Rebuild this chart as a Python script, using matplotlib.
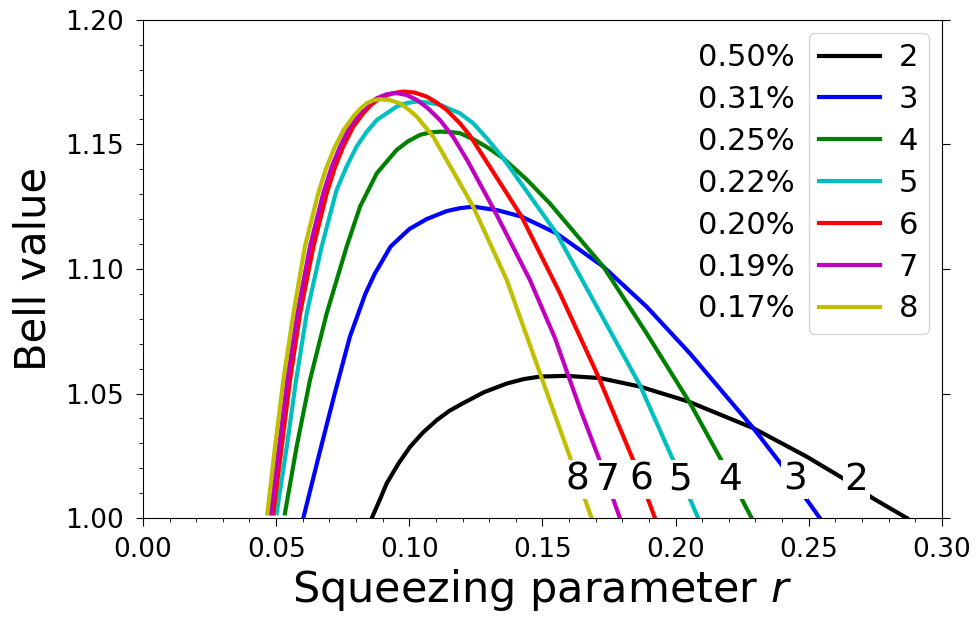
import matplotlib
matplotlib.use('Agg')
import matplotlib.pyplot as plt
from matplotlib.ticker import MultipleLocator, FormatStrFormatter

# curves: squeezing r vs Bell value, one per N
r2 = [0.0859, 0.089, 0.0915, 0.096, 0.1003, 0.105, 0.1103, 0.115, 0.12, 0.128, 0.1366, 0.143, 0.1491, 0.1591, 0.1716, 0.1866, 0.2048, 0.2292, 0.2492, 0.263, 0.2742, 0.2869]
b2 = [1.0, 1.0075, 1.0139, 1.022, 1.0286, 1.0342, 1.0393, 1.043, 1.046, 1.0505, 1.054, 1.0558, 1.0568, 1.0571, 1.0562, 1.0528, 1.0468, 1.0361, 1.0247, 1.0159, 1.0079, 1.0]

r3 = [0.0602, 0.0665, 0.072, 0.0777, 0.0835, 0.087, 0.093, 0.1, 0.1065, 0.114, 0.119, 0.124, 0.133, 0.1422, 0.1553, 0.1729, 0.1891, 0.2054, 0.2292, 0.2404, 0.2542]
b3 = [1.0, 1.027, 1.05, 1.0728, 1.09, 1.098, 1.109, 1.116, 1.12, 1.1232, 1.1244, 1.125, 1.1236, 1.121, 1.1143, 1.1009, 1.0849, 1.0661, 1.0361, 1.0206, 1.0]

r4 = [0.0533, 0.0577, 0.0627, 0.069, 0.0765, 0.0815, 0.0878, 0.0953, 0.0995, 0.104, 0.1078, 0.1115, 0.1153, 0.119, 0.124, 0.1295, 0.1353, 0.144, 0.1528, 0.1729, 0.1891, 0.2054, 0.2179, 0.2286]
b4 = [1.0019, 1.0287, 1.0554, 1.0822, 1.109, 1.125, 1.1384, 1.1478, 1.1512, 1.1538, 1.1548, 1.1551, 1.155, 1.1545, 1.1521, 1.1487, 1.1444, 1.136, 1.1263, 1.1009, 1.0742, 1.0462, 1.0219, 1.0]

r5 = [0.0502, 0.054, 0.0575, 0.0615, 0.0671, 0.0727, 0.0765, 0.0802, 0.084, 0.0878, 0.0953, 0.099, 0.1028, 0.107, 0.1115, 0.119, 0.124, 0.1295, 0.1353, 0.1553, 0.1704, 0.1866, 0.1991, 0.2085]
b5 = [1.0019, 1.0287, 1.0554, 1.0822, 1.109, 1.1317, 1.1412, 1.1491, 1.155, 1.1598, 1.1652, 1.1666, 1.1672, 1.1668, 1.1659, 1.1625, 1.1585, 1.152, 1.1444, 1.1143, 1.0849, 1.0534, 1.0233, 1.0]

r6 = [0.0489, 0.0521, 0.0552, 0.059, 0.064, 0.069, 0.072, 0.0752, 0.0788, 0.0827, 0.086, 0.089, 0.0935, 0.0978, 0.102, 0.1065, 0.11, 0.114, 0.119, 0.1228, 0.1422, 0.1566, 0.171, 0.1841, 0.1923]
b6 = [1.0019, 1.0287, 1.0554, 1.0822, 1.109, 1.1304, 1.1405, 1.1491, 1.1568, 1.1625, 1.1662, 1.1685, 1.1705, 1.1712, 1.1708, 1.1692, 1.167, 1.1639, 1.1585, 1.1535, 1.121, 1.0902, 1.0568, 1.0233, 1.0]

r7 = [0.048, 0.0511, 0.0542, 0.058, 0.0627, 0.0677, 0.0707, 0.074, 0.0775, 0.0815, 0.0845, 0.0878, 0.0915, 0.0953, 0.099, 0.1028, 0.107, 0.1115, 0.1165, 0.122, 0.1322, 0.1453, 0.1547, 0.1641, 0.171, 0.1791]
b7 = [1.0019, 1.0287, 1.0554, 1.0822, 1.109, 1.1304, 1.1405, 1.1491, 1.1568, 1.1625, 1.1662, 1.1685, 1.1701, 1.1706, 1.1698, 1.1679, 1.1645, 1.1598, 1.153, 1.1432, 1.123, 1.0956, 1.0723, 1.044, 1.0246, 1.0]

r8 = [0.0467, 0.0496, 0.0527, 0.0565, 0.0608, 0.0658, 0.0688, 0.0721, 0.0755, 0.079, 0.0815, 0.084, 0.0865, 0.089, 0.0925, 0.0965, 0.0995, 0.1028, 0.109, 0.114, 0.119, 0.124, 0.1366, 0.1491, 0.1603, 0.1685]
b8 = [1.0019, 1.0287, 1.0554, 1.0822, 1.109, 1.1304, 1.1405, 1.1491, 1.156, 1.1612, 1.1642, 1.1665, 1.1677, 1.1681, 1.1678, 1.1665, 1.1642, 1.1612, 1.1531, 1.1438, 1.1344, 1.125, 1.0956, 1.0581, 1.0246, 1.0]

names = ['2', '3', '4', '5', '6', '7', '8']
colors = ['k', 'b', 'g', 'c', 'r', 'm', 'y']
percents = ['0.50%', '0.31%', '0.25%', '0.22%', '0.20%', '0.19%', '0.17%']
# where the N labels sit on the curves
label_r = [0.268, 0.2448, 0.2205, 0.2017, 0.1873, 0.1747, 0.163]
label_b = 1.0153

curves = [(r2, b2), (r3, b3), (r4, b4), (r5, b5), (r6, b6), (r7, b7), (r8, b8)]

fig = plt.figure(figsize=(9.76, 6.19), dpi=100)
ax = fig.add_axes([0.1465, 0.163, 0.8185, 0.805])

for (r, b), c, n in zip(curves, colors, names):
    ax.plot(r, b, color=c, lw=3, label=n, solid_joinstyle='round')

for x, n in zip(label_r, names):
    ax.text(x, label_b, n, fontsize=27, ha='center', va='center',
            bbox=dict(facecolor='white', edgecolor='none', pad=1), zorder=5)

ax.set_xlim(0, 0.30)
ax.set_ylim(1.0, 1.20)
ax.xaxis.set_major_locator(MultipleLocator(0.05))
ax.xaxis.set_minor_locator(MultipleLocator(0.01))
ax.yaxis.set_major_locator(MultipleLocator(0.05))
ax.yaxis.set_minor_locator(MultipleLocator(0.01))
ax.xaxis.set_major_formatter(FormatStrFormatter('%.2f'))
ax.yaxis.set_major_formatter(FormatStrFormatter('%.2f'))
ax.tick_params(which='major', labelsize=19, length=5.4, pad=8, right=True)
ax.tick_params(which='minor', length=3.2)

ax.set_xlabel('Squeezing parameter $r$', fontsize=31, labelpad=3)
ax.set_ylabel('Bell value', fontsize=30, labelpad=8)

leg = ax.legend(loc='upper right', fontsize=22, handlelength=2.0,
                handletextpad=0.6, borderpad=0.35,
                labelspacing=0.42, borderaxespad=0.42)

# percentages written to the left of the legend rows
fig.canvas.draw()
frame = leg.get_frame().get_window_extent()
inv = ax.transAxes.inverted()
for t, p in zip(leg.get_texts(), percents):
    bb = t.get_window_extent()
    xa, ya = inv.transform((frame.x0 - 14, (bb.y0 + bb.y1) / 2))
    ax.text(xa, ya, p, fontsize=22, ha='right', va='center', transform=ax.transAxes)

fig.savefig('out.png', dpi=100)
